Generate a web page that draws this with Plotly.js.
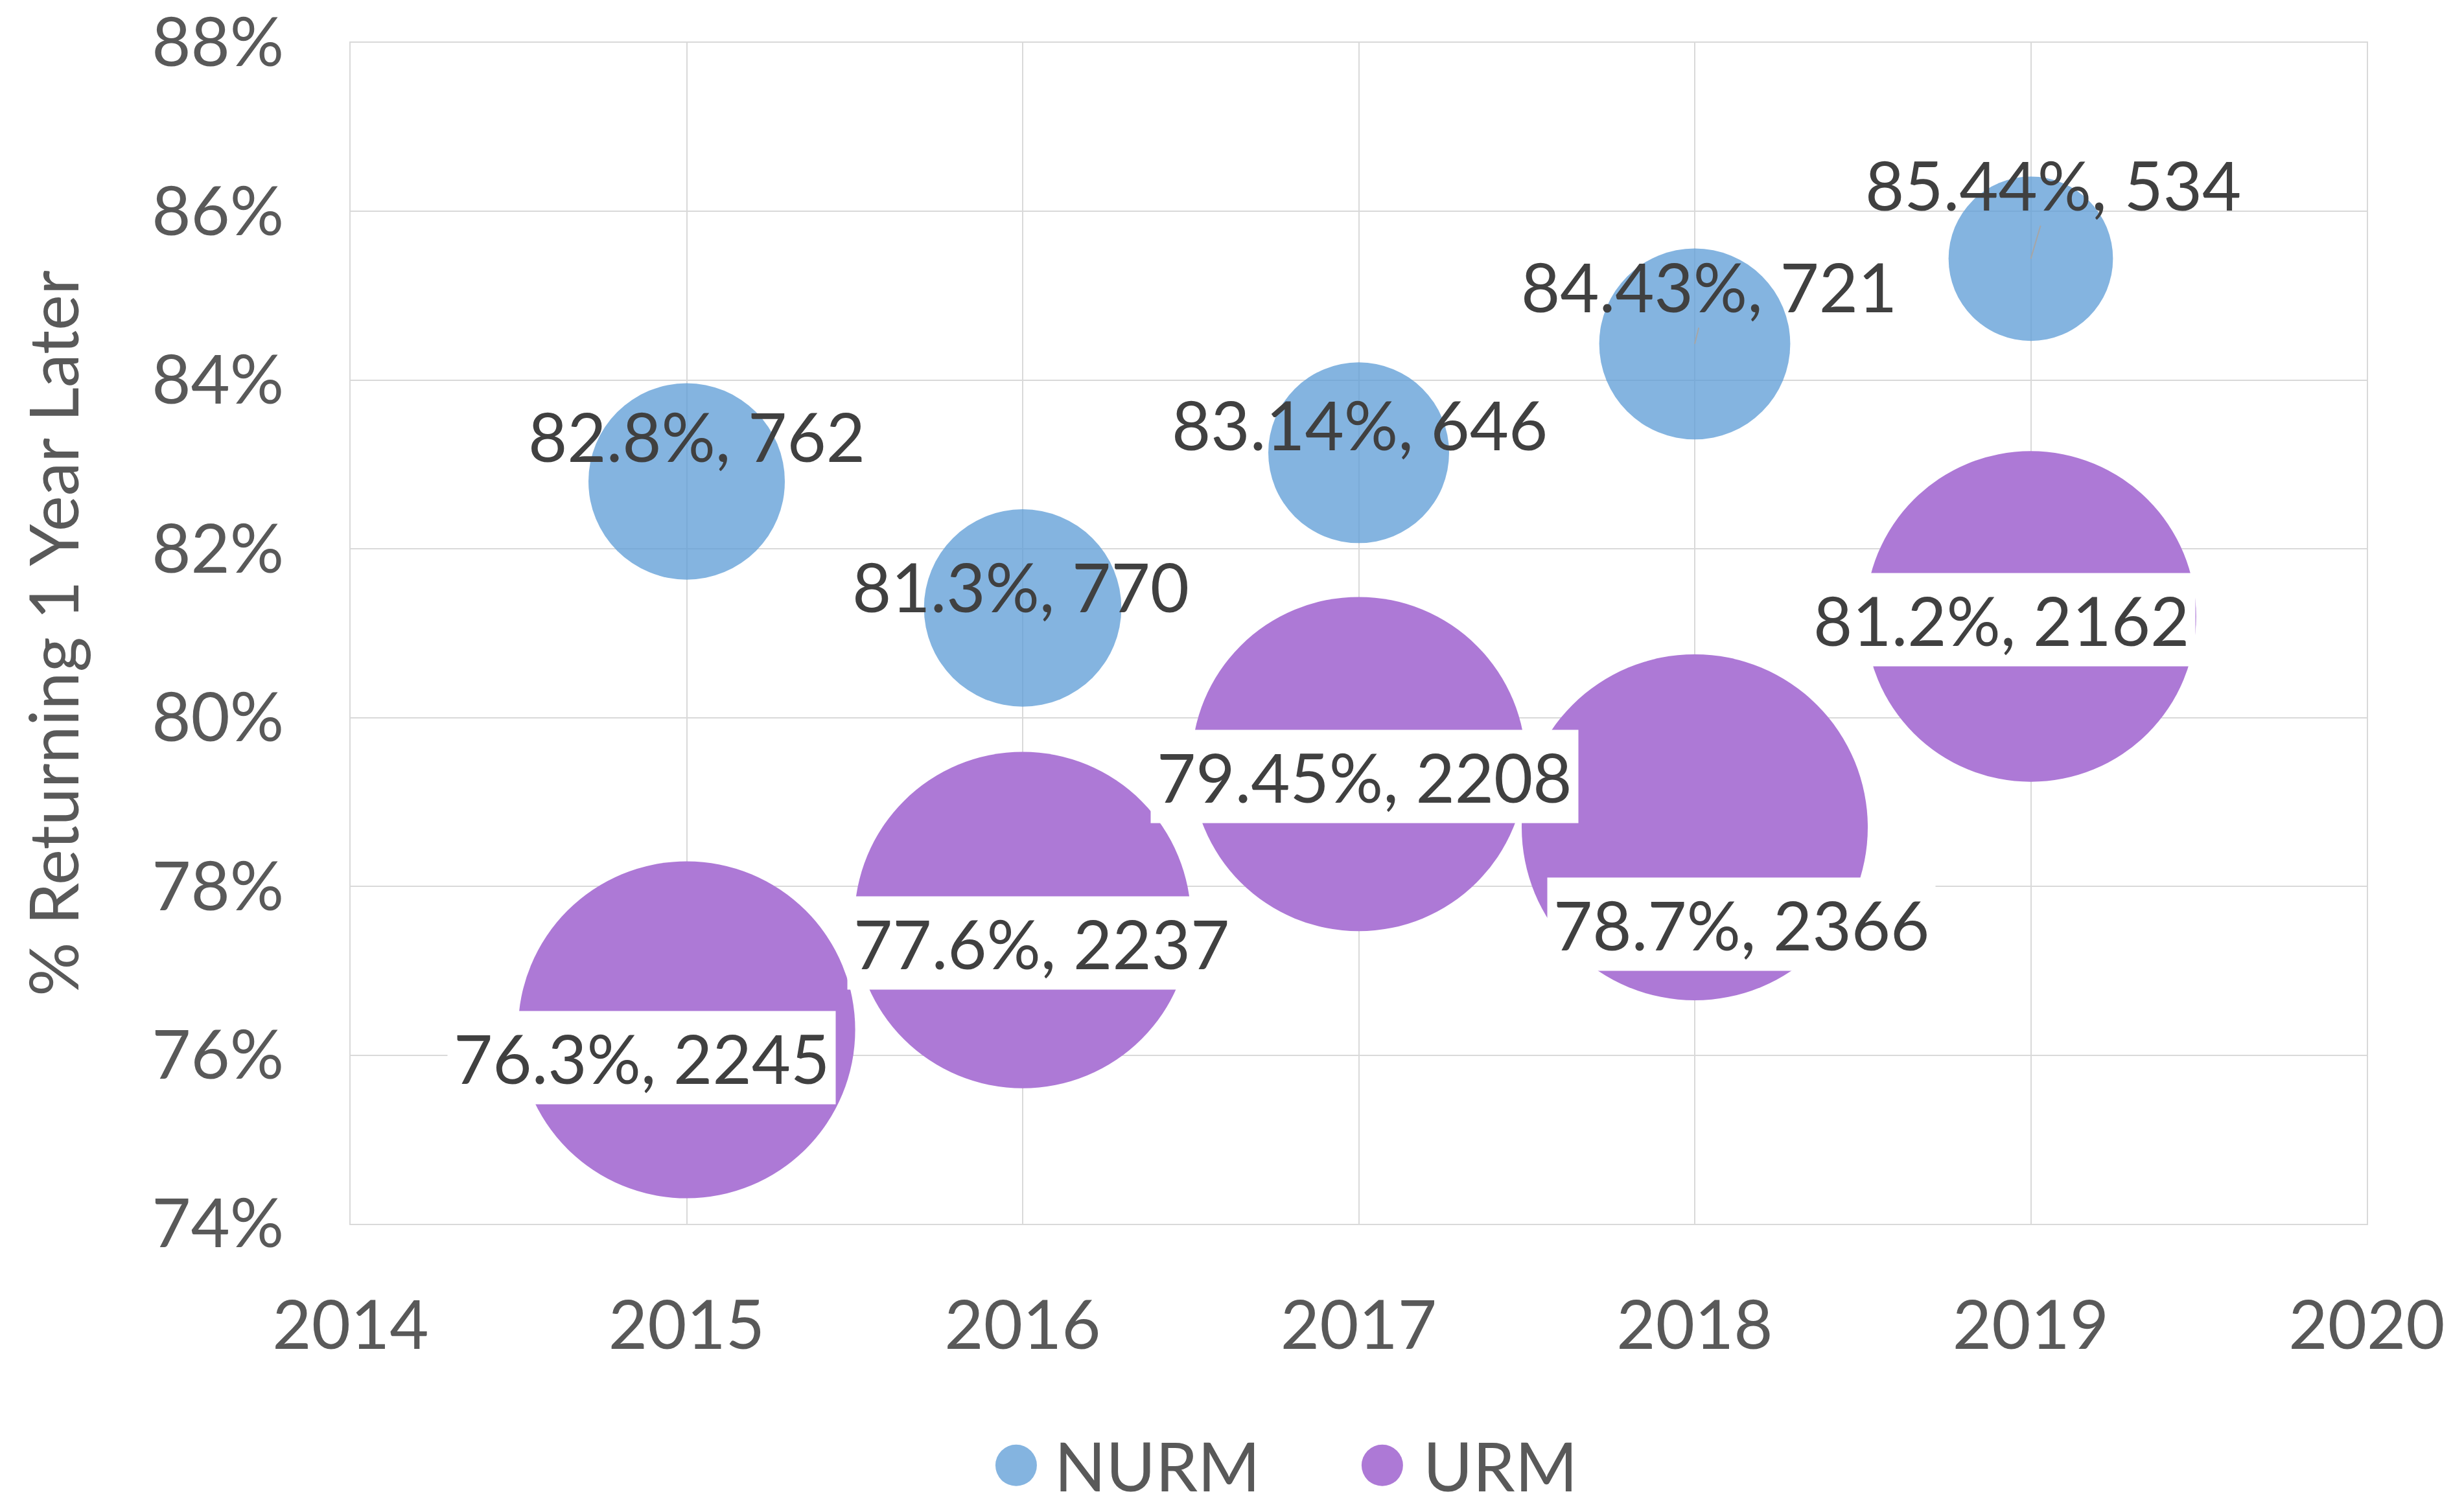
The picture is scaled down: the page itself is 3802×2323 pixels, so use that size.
<!DOCTYPE html>
<html><head><meta charset="utf-8">
<script src="https://cdn.plot.ly/plotly-3.0.1.min.js"></script>
<style>html,body{margin:0;padding:0;background:#fff}#chart{width:3802px;height:2323px}</style>
</head><body><div id="chart"></div>
<script>
// ---- data ----
const years = [2015, 2016, 2017, 2018, 2019];
const seriesNames = ['NURM', 'URM'];
const nurmRate = [82.8, 81.3, 83.14, 84.43, 85.44];
const nurmCount = [762, 770, 646, 721, 534];
const urmRate = [76.3, 77.6, 79.45, 78.7, 81.2];
const urmCount = [2245, 2237, 2208, 2366, 2162];
const xTickVals = [2014, 2015, 2016, 2017, 2018, 2019, 2020];
const yTickVals = [74, 76, 78, 80, 82, 84, 86, 88];
const yTitle = '% Returning 1 Year Later';

// ---- styles ----
const colors = ['rgba(91,155,213,0.75)', '#AD79D6'];
const FONT = 'Lato, "Open Sans", sans-serif';
const FS = 104;
// label pixel offsets [dx, dy(up)]
const nurmLabelShift = [[15, 71], [-3, 34], [1, 44], [22, 89], [34, 115]];
const nurmLeader = [false, false, false, true, true];
const urmLabelShift = [[-70, -43], [29, -35], [9, -19], [72, -150], [-46, -5]];

const allCounts = nurmCount.concat(urmCount);
const maxCount = Math.max.apply(null, allCounts);
const maxDiam = 534;
const sizeref = 2 * maxCount / (maxDiam * maxDiam);

function bubble(name, rates, counts, color) {
  return {
    type: 'scatter', mode: 'markers', name: name,
    x: years, y: rates,
    marker: {size: counts, sizemode: 'area', sizeref: sizeref, color: color, opacity: 1, line: {width: 0}},
    hoverinfo: 'skip', showlegend: false
  };
}
const traces = [
  bubble(seriesNames[0], nurmRate, nurmCount, colors[0]),
  bubble(seriesNames[1], urmRate, urmCount, colors[1])
];

const annotations = [];
years.forEach((yr, i) => {
  const a = {
    x: yr, y: nurmRate[i], xref: 'x', yref: 'y',
    text: nurmRate[i] + '%, ' + nurmCount[i],
    font: {family: FONT, size: FS, color: '#404040'}
  };
  if (nurmLeader[i]) {
    Object.assign(a, {showarrow: true, arrowhead: 0, arrowwidth: 2, arrowcolor: '#A6A6A6',
      standoff: 0, startstandoff: 0,
      ax: nurmLabelShift[i][0], ay: -nurmLabelShift[i][1], axref: 'pixel', ayref: 'pixel'});
  } else {
    Object.assign(a, {showarrow: false, xshift: nurmLabelShift[i][0], yshift: nurmLabelShift[i][1]});
  }
  annotations.push(a);
});
years.forEach((yr, i) => {
  annotations.push({
    x: yr, y: urmRate[i], xref: 'x', yref: 'y', showarrow: false,
    text: urmRate[i] + '%, ' + urmCount[i],
    xshift: urmLabelShift[i][0], yshift: urmLabelShift[i][1],
    bgcolor: '#FFFFFF', borderpad: 9,
    font: {family: FONT, size: FS, color: '#404040'}
  });
});

// custom legend (large symbols)
const legendMarkerX = [0.3301, 0.5117];
const legendTextX = [0.3485, 0.5312];
const legendY = -0.2045;
const shapes = [];
seriesNames.forEach((n, i) => {
  shapes.push({
    type: 'circle', xref: 'paper', yref: 'paper',
    xsizemode: 'pixel', ysizemode: 'pixel',
    xanchor: legendMarkerX[i], yanchor: legendY,
    x0: -32, x1: 32, y0: -32, y1: 32,
    fillcolor: colors[i], line: {width: 0}, layer: 'above'
  });
  annotations.push({
    x: legendTextX[i], y: legendY, xref: 'paper', yref: 'paper',
    xanchor: 'left', yanchor: 'middle', showarrow: false, text: n,
    align: 'left',
    font: {family: FONT, size: FS, color: '#595959'}
  });
});

const axisCommon = {
  showgrid: true, gridcolor: '#D9D9D9', gridwidth: 2,
  showline: true, linecolor: '#D9D9D9', linewidth: 2, mirror: true,
  zeroline: false, ticks: '', ticklabeloverflow: 'allow',
  tickfont: {family: FONT, size: FS, color: '#595959'}
};

const layout = {
  width: 3802, height: 2323,
  paper_bgcolor: '#FFFFFF', plot_bgcolor: '#FFFFFF',
  margin: {l: 541, r: 150, t: 66, b: 434, pad: 0},
  showlegend: false,
  font: {family: FONT, color: '#595959'},
  xaxis: Object.assign({}, axisCommon, {
    range: [2014, 2020], tickmode: 'array', tickvals: xTickVals, ticktext: xTickVals.map(String),
    ticklabelstandoff: 66
  }),
  yaxis: Object.assign({}, axisCommon, {
    range: [74, 88], tickmode: 'array', tickvals: yTickVals,
    ticktext: yTickVals.map(v => v + '%'),
    ticklabelstandoff: 80,
    title: {text: yTitle, font: {family: FONT, size: FS, color: '#595959'}, standoff: 78}
  }),
  annotations: annotations,
  shapes: shapes
};

Plotly.newPlot('chart', traces, layout, {staticPlot: true, displayModeBar: false});
</script>
</body></html>
